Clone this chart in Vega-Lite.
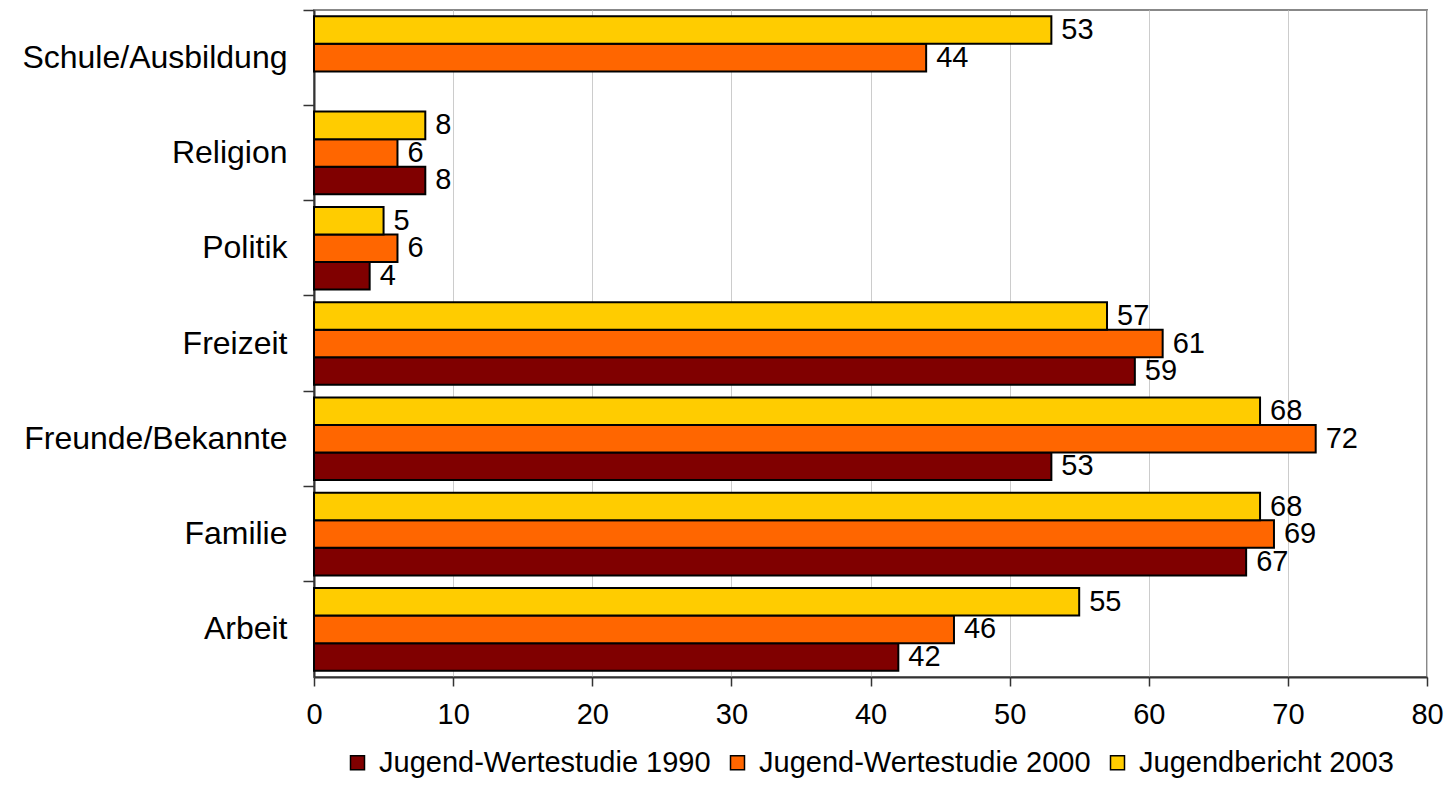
{
  "$schema": "https://vega.github.io/schema/vega-lite/v6.json",
  "width": 1113,
  "height": 667,
  "autosize": {"type": "none"},
  "padding": {"left": 314, "top": 10, "right": 25, "bottom": 129},
  "background": "white",
  "config": {
    "font": "Liberation Sans",
    "view": {"stroke": "#888888", "strokeWidth": 2}
  },
  "data": {
    "values": [
      {"cat": "Schule/Ausbildung", "series": "Jugend-Wertestudie 2000", "value": 44},
      {"cat": "Schule/Ausbildung", "series": "Jugendbericht 2003", "value": 53},
      {"cat": "Religion", "series": "Jugend-Wertestudie 1990", "value": 8},
      {"cat": "Religion", "series": "Jugend-Wertestudie 2000", "value": 6},
      {"cat": "Religion", "series": "Jugendbericht 2003", "value": 8},
      {"cat": "Politik", "series": "Jugend-Wertestudie 1990", "value": 4},
      {"cat": "Politik", "series": "Jugend-Wertestudie 2000", "value": 6},
      {"cat": "Politik", "series": "Jugendbericht 2003", "value": 5},
      {"cat": "Freizeit", "series": "Jugend-Wertestudie 1990", "value": 59},
      {"cat": "Freizeit", "series": "Jugend-Wertestudie 2000", "value": 61},
      {"cat": "Freizeit", "series": "Jugendbericht 2003", "value": 57},
      {"cat": "Freunde/Bekannte", "series": "Jugend-Wertestudie 1990", "value": 53},
      {"cat": "Freunde/Bekannte", "series": "Jugend-Wertestudie 2000", "value": 72},
      {"cat": "Freunde/Bekannte", "series": "Jugendbericht 2003", "value": 68},
      {"cat": "Familie", "series": "Jugend-Wertestudie 1990", "value": 67},
      {"cat": "Familie", "series": "Jugend-Wertestudie 2000", "value": 69},
      {"cat": "Familie", "series": "Jugendbericht 2003", "value": 68},
      {"cat": "Arbeit", "series": "Jugend-Wertestudie 1990", "value": 42},
      {"cat": "Arbeit", "series": "Jugend-Wertestudie 2000", "value": 46},
      {"cat": "Arbeit", "series": "Jugendbericht 2003", "value": 55}
    ]
  },
  "encoding": {
    "y": {
      "field": "cat",
      "type": "nominal",
      "sort": ["Schule/Ausbildung", "Religion", "Politik", "Freizeit", "Freunde/Bekannte", "Familie", "Arbeit"],
      "scale": {"paddingInner": 0, "paddingOuter": 0},
      "title": null,
      "axis": {
        "bandPosition": 0,
        "labelFontSize": 32,
        "labelColor": "black",
        "labelPadding": 16,
        "labelLimit": 400,
        "tickSize": 11,
        "tickColor": "#333333",
        "tickWidth": 1.5,
        "domainColor": "#333333",
        "domainWidth": 2,
        "grid": false
      }
    },
    "yOffset": {
      "field": "series",
      "type": "nominal",
      "sort": ["Jugendbericht 2003", "Jugend-Wertestudie 2000", "Jugend-Wertestudie 1990"],
      "scale": {"paddingInner": 0, "paddingOuter": 0.23}
    },
    "x": {
      "field": "value",
      "type": "quantitative",
      "scale": {"domain": [0, 80]},
      "title": null,
      "axis": {
        "values": [0, 10, 20, 30, 40, 50, 60, 70, 80],
        "labelFlush": false,
        "labelFontSize": 29,
        "labelColor": "black",
        "labelPadding": 14,
        "tickSize": 9,
        "tickColor": "#333333",
        "tickWidth": 1.5,
        "domainColor": "#333333",
        "domainWidth": 2,
        "grid": true,
        "gridColor": "#cccccc",
        "gridWidth": 1
      }
    }
  },
  "layer": [
    {
      "mark": {"type": "bar", "stroke": "black", "strokeWidth": 2},
      "encoding": {
        "color": {
          "field": "series",
          "type": "nominal",
          "scale": {
            "domain": ["Jugend-Wertestudie 1990", "Jugend-Wertestudie 2000", "Jugendbericht 2003"],
            "range": ["#800000", "#ff6600", "#ffcc00"]
          },
          "legend": {
            "title": null,
            "orient": "none",
            "direction": "horizontal",
            "legendX": 29,
            "legendY": 738,
            "symbolType": "square",
            "symbolSize": 196,
            "symbolStrokeColor": "black",
            "symbolStrokeWidth": 1.5,
            "symbolOpacity": 1,
            "labelFontSize": 29,
            "labelColor": "black",
            "labelOffset": 7,
            "columnPadding": 12,
            "labelLimit": 500
          }
        }
      }
    },
    {
      "mark": {"type": "text", "align": "left", "baseline": "middle", "dx": 10, "fontSize": 29, "color": "black"},
      "encoding": {"text": {"field": "value", "type": "quantitative"}}
    }
  ]
}
